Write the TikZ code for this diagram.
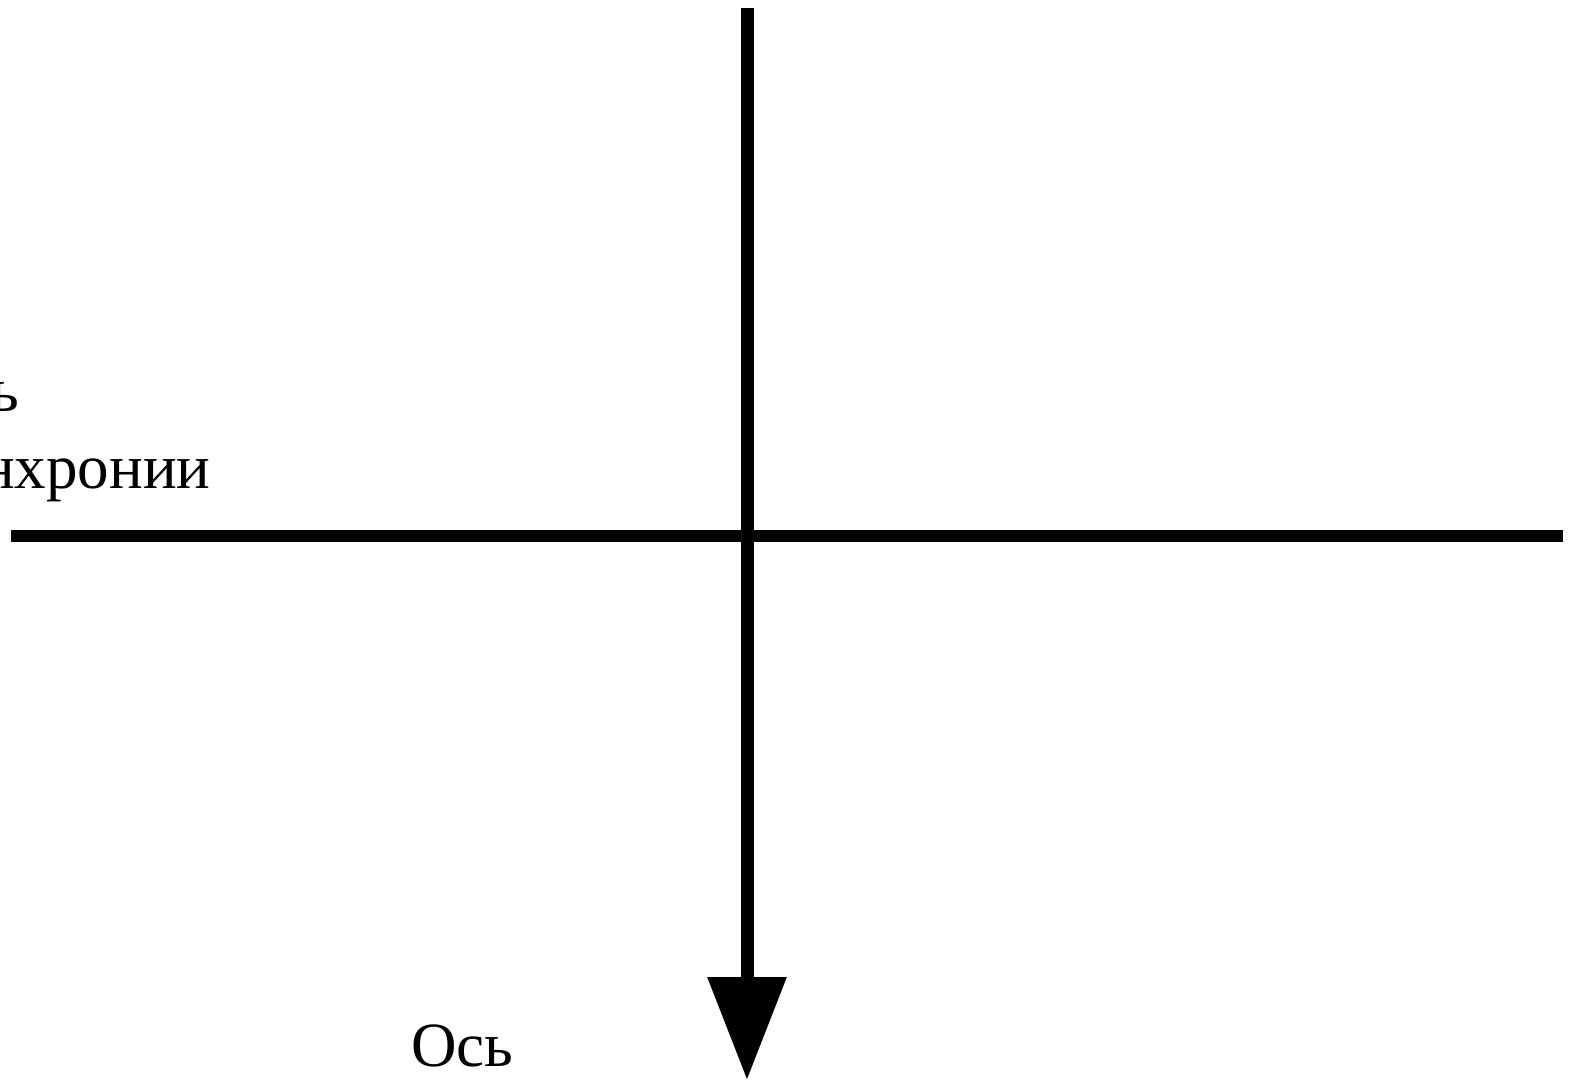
\documentclass[tikz,border=0pt]{standalone}
\usepackage{fontspec}
\setmainfont{Liberation Serif}
\usetikzlibrary{arrows.meta,positioning}
\tikzset{
  axisline/.style={line width=6pt,color=black},
  axisarr/.style={line width=6.5pt,color=black,-{Triangle[length=51.5pt,width=38pt]}},
  axislabel/.style={inner sep=0pt,font=\fontsize{31.5}{38}\selectfont}
}
\begin{document}
\begin{tikzpicture}[x=0.5pt,y=-0.5pt]
  \useasboundingbox (0,0) rectangle (1576,1081);
  \coordinate (vtop) at (747,8);
  \coordinate (vend) at (747,1080);
  \coordinate (hleft) at (11,536);
  \coordinate (hright) at (1563,536);

  \draw[axisline] (hleft)--(hright);
  \draw[axisarr] (vtop)--(vend);
  \node[axislabel,anchor=base east] (synword) at (20,411) {Ось};
  \node[axislabel,anchor=base east] (synname) at (211,488) {синхронии};
  \node[axislabel,anchor=base west] (diaword) at (411,1066) {Ось};
\end{tikzpicture}
\end{document}
